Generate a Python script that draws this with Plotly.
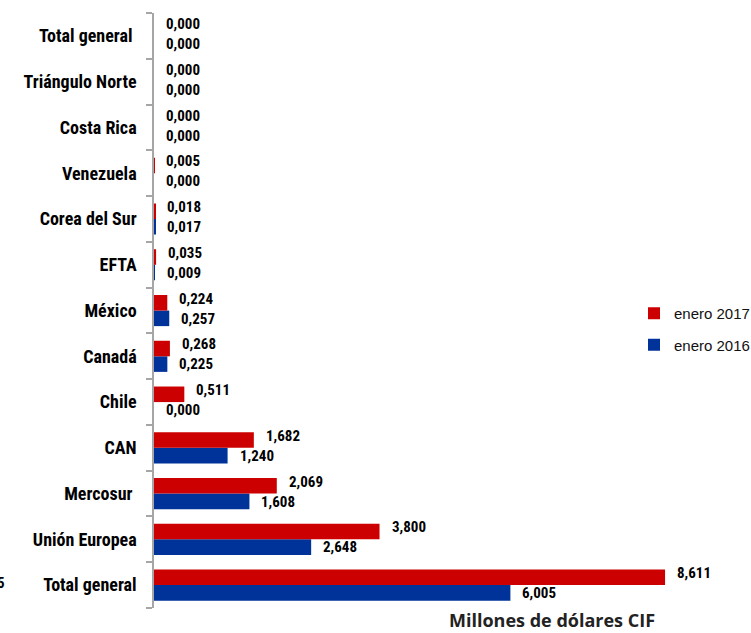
import plotly.graph_objects as go

categories = ["Total general", "Unión Europea", "Mercosur ", "CAN", "Chile", "Canadá",
              "México", "EFTA", "Corea del Sur", "Venezuela", "Costa Rica",
              "Triángulo Norte", "Total general "]
ene_2017 = [8.611, 3.800, 2.069, 1.682, 0.511, 0.268, 0.224, 0.035, 0.018, 0.005, 0.000, 0.000, 0.000]
ene_2016 = [6.005, 2.648, 1.608, 1.240, 0.000, 0.225, 0.257, 0.009, 0.017, 0.000, 0.000, 0.000, 0.000]
series_names = ["enero 2017", "enero 2016"]
x_title = "Millones de dólares CIF"

RED = "#CC0000"
BLUE = "#003399"
NARROW = "Liberation Sans Narrow, Arial Narrow, Roboto Condensed, Liberation Sans, Arial"

W, H = 751, 633
L, R, T, B = 154, 11, 13, 25
plot_w = W - L - R
plot_h = H - T - B
px_per_unit = 59.35

def fmt(v):
    return f"{v:.3f}".replace(".", ",")

fig = go.Figure()
fig.add_trace(go.Bar(
    y=categories, x=ene_2016, orientation="h", name=series_names[1],
    marker=dict(color=BLUE, line=dict(width=0)),
    legendgroup="b", legendrank=2, hoverinfo="x+y"))
fig.add_trace(go.Bar(
    y=categories, x=ene_2017, orientation="h", name=series_names[0],
    marker=dict(color=RED, line=dict(width=0)),
    legendgroup="a", legendrank=1, hoverinfo="x+y"))

annotations = []
for c, v in zip(categories, ene_2017):
    annotations.append(dict(x=v, y=c, xref="x", yref="y", text=fmt(v), showarrow=False,
                            xanchor="left", yanchor="middle", xshift=10, yshift=12,
                            font=dict(family=NARROW, size=15, color="black", weight="bold")))
for c, v in zip(categories, ene_2016):
    annotations.append(dict(x=v, y=c, xref="x", yref="y", text=fmt(v), showarrow=False,
                            xanchor="left", yanchor="middle", xshift=10, yshift=-8,
                            font=dict(family=NARROW, size=15, color="black", weight="bold")))

annotations.append(dict(x=(552 - L) / plot_w, y=-12 / plot_h, xref="paper", yref="paper",
                        text=x_title, showarrow=False, xanchor="center", yanchor="middle",
                        font=dict(family="Open Sans, Liberation Sans", size=18, color="#222222",
                                  weight="bold")))
annotations.append(dict(x=(7 - L) / plot_w, y=(608 - 583) / plot_h, xref="paper", yref="paper",
                        text="5", showarrow=False, xanchor="right", yanchor="middle",
                        font=dict(family=NARROW, size=15, color="black", weight="bold")))

fig.update_layout(
    width=W, height=H,
    margin=dict(l=L, r=R, t=T, b=B, pad=0, autoexpand=False),
    paper_bgcolor="white", plot_bgcolor="white",
    barmode="group", bargap=0.32, bargroupgap=0,
    showlegend=True,
    legend=dict(x=(634 - L) / plot_w, y=(608 - 297) / plot_h, xanchor="left", yanchor="top",
                traceorder="grouped", tracegroupgap=9,
                font=dict(family="Liberation Sans, Arial", size=15, color="#111111"),
                bgcolor="rgba(0,0,0,0)", itemwidth=30),
    annotations=annotations,
    xaxis=dict(range=[0, plot_w / px_per_unit], showgrid=False, zeroline=False,
               showticklabels=False, ticks="", showline=False, fixedrange=True,
               automargin=False),
    yaxis=dict(type="category", categoryorder="array", categoryarray=categories,
               showgrid=False, zeroline=False, showline=True, linecolor="#A6A6A6", linewidth=1.5,
               ticks="outside", tickson="boundaries", ticklen=6, tickcolor="#A6A6A6", tickwidth=1.5,
               ticklabelstandoff=12, automargin=False,
               tickfont=dict(family=NARROW, size=18, color="black", weight="bold"),
               fixedrange=True),
)

fig.write_html("out.html", config={"displayModeBar": False},
               post_script="document.body.style.margin='0';document.body.style.padding='0';")
